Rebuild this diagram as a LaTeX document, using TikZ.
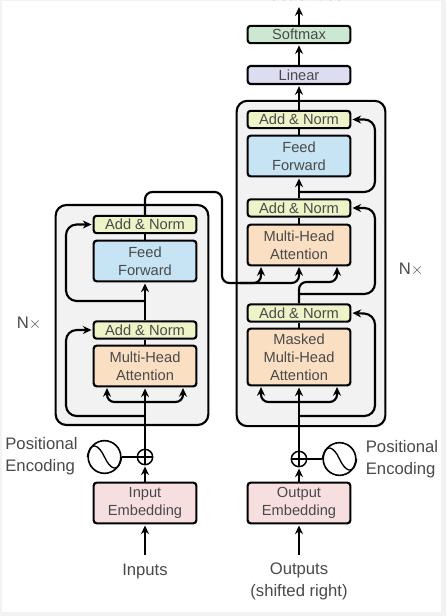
\documentclass[tikz,border=0pt]{standalone}
\usepackage{fontspec}
\setmainfont{Liberation Sans}
\usetikzlibrary{arrows.meta}
\definecolor{inkText}{HTML}{4A4A4A}
\definecolor{stackFill}{HTML}{F2F2F2}
\definecolor{normFill}{HTML}{EFF3C8}
\definecolor{feedFill}{HTML}{C6E4F3}
\definecolor{attnFill}{HTML}{FADFC2}
\definecolor{embedFill}{HTML}{F7DFE0}
\definecolor{linearFill}{HTML}{DCDDF0}
\definecolor{softFill}{HTML}{CDE8D2}

\begin{document}
\begin{tikzpicture}[
  x=0.75pt,y=-0.75pt,
  block/.style={draw=black,line width=1.6pt,rounded corners=2.2pt,minimum width=77pt,inner sep=0pt,
    align=center,text=inkText,font=\fontsize{11}{13.6}\selectfont},
  normbox/.style={block,fill=normFill,minimum height=13pt},
  feedbox/.style={block,fill=feedFill,minimum height=30.5pt},
  attnbox/.style={block,fill=attnFill,minimum height=30.5pt},
  maskbox/.style={block,fill=attnFill,minimum height=42.5pt},
  embedbox/.style={block,fill=embedFill,minimum height=30.5pt},
  stackbox/.style={draw=black,fill=stackFill,line width=1.6pt,rounded corners=8pt,inner sep=0pt},
  caption/.style={text=inkText,font=\fontsize{12.5}{16.5}\selectfont,align=center,inner sep=0pt},
  flow/.style={line width=1.6pt,-{Stealth[length=6.5pt,width=6pt]},shorten >=0.8pt},
  wire/.style={line width=1.6pt},
  turning/.style={rounded corners=5.5pt},
  oplus/.style={circle,draw=black,line width=1.1pt,minimum size=11.5pt,inner sep=0pt},
  wave/.style={circle,draw=black,line width=1.2pt,minimum size=24.5pt,inner sep=0pt}
]
  \useasboundingbox (0,0) rectangle (446,616);
  \fill[stackFill] (0,0) rectangle (446,616);
  \fill[white] (2,1) rectangle (441,612);

  % stacks
  \node[stackbox,minimum width=114.5pt,minimum height=165pt] (encStack) at (132,315) {};
  \node[stackbox,minimum width=111.5pt,minimum height=244pt] (decStack) at (311,263.5) {};

  % encoder
  \node[embedbox] (encEmbed) at (145,503) {Input\\Embedding};
  \node[attnbox] (encAttn) at (145,366) {Multi-Head\\Attention};
  \node[normbox] (encNormA) at (145,330) {Add \& Norm};
  \node[feedbox] (encFeed) at (145,261) {Feed\\Forward};
  \node[normbox] (encNormB) at (145,224.5) {Add \& Norm};

  % decoder
  \node[embedbox] (decEmbed) at (299,503) {Output\\Embedding};
  \node[maskbox] (decMasked) at (299,357) {Masked\\Multi-Head\\Attention};
  \node[normbox] (decNormA) at (299,313) {Add \& Norm};
  \node[attnbox] (decAttn) at (299,245) {Multi-Head\\Attention};
  \node[normbox] (decNormB) at (299,208) {Add \& Norm};
  \node[feedbox] (decFeed) at (299,156) {Feed\\Forward};
  \node[normbox] (decNormC) at (299,119.5) {Add \& Norm};
  \node[block,fill=linearFill,minimum height=13.5pt] (linear) at (299,75) {Linear};
  \node[block,fill=softFill,minimum height=13pt] (softmax) at (299,34.5) {Softmax};

  % captions
  \node[caption,anchor=base] (outProb) at (298,1) {Probabilities};
  \node[caption] (inputs) at (145,571) {Inputs};
  \node[caption] (outputs) at (299,581) {Outputs\\(shifted right)};
  \node[caption,align=left] (encPos) at (41.5,456) {Positional\\Encoding};
  \node[caption,align=left] (decPos) at (402,459) {Positional\\Encoding};
  \node[caption] (encN) at (29,323) {N$\times$};
  \node[caption] (decN) at (411,269) {N$\times$};

  % positional encoding
  \node[oplus] (encAdd) at (145,457) {};
  \node[oplus] (decAdd) at (299,459) {};
  \node[wave] (encSine) at (104.5,457) {};
  \node[wave] (decSine) at (339.5,459) {};
  \foreach \n in {encSine,decSine}
    \draw[line width=1pt] (\n.west) .. controls +(2pt,13pt) and +(-4pt,9pt) .. (\n.center)
      .. controls +(4pt,-9pt) and +(-2pt,-13pt) .. (\n.east);
  \foreach \n in {encAdd,decAdd} {
    \draw[line width=1pt] (\n.north) -- (\n.south);
    \draw[line width=1pt] (\n.west) -- (\n.east);
  }
  \draw[wire] (encSine) -- (encAdd);
  \draw[wire] (decSine) -- (decAdd);

  % coordinates for the branches
  \coordinate (inStart) at (145,555);
  \coordinate (outStart) at (299,555);
  \coordinate (topEnd) at (299,6);
  \coordinate (encFork) at (145,402);
  \coordinate (encSkipA) at (145,416);
  \coordinate (encSkipB) at (145,301);
  \coordinate (encKey) at (107,387);
  \coordinate (encVal) at (183,387);
  \coordinate (crossR) at (222,192);
  \coordinate (crossB) at (222,283);
  \coordinate (crossA) at (240,283);
  \coordinate (decKey) at (261,266);
  \coordinate (decVal) at (299,266);
  \coordinate (decQuery) at (337,266);
  \coordinate (decFork) at (299,402);
  \coordinate (decSkipA) at (299,416);
  \coordinate (decSkipB) at (299,294);
  \coordinate (decSkipC) at (299,192);
  \coordinate (maskKey) at (261,386);
  \coordinate (maskQuery) at (337,386);
  \coordinate (turnA) at (66,330);
  \coordinate (turnB) at (66,224.5);
  \coordinate (turnC) at (375,314);
  \coordinate (turnD) at (375,208);
  \coordinate (turnE) at (375,119.5);
  \coordinate (bendQ) at (299,282);

  % vertical arrows
  \draw[flow] (inStart) -- (encEmbed);
  \draw[flow] (outStart) -- (decEmbed);
  \draw[flow] (encEmbed) -- (encAdd);
  \draw[flow] (decEmbed) -- (decAdd);
  \draw[flow] (encAdd) -- (encAttn);
  \draw[flow] (decAdd) -- (decMasked);
  \draw[wire] (encAttn) -- (encNormA);
  \draw[flow] (encNormA) -- (encFeed);
  \draw[wire] (encFeed) -- (encNormB);
  \draw[wire] (decMasked) -- (decNormA);
  \draw[wire] (decAttn) -- (decNormB);
  \draw[flow] (decNormB) -- (decFeed);
  \draw[wire] (decFeed) -- (decNormC);
  \draw[flow] (decNormC) -- (linear);
  \draw[flow] (linear) -- (softmax);
  \draw[flow] (softmax) -- (topEnd);

  % attention inputs
  \draw[flow,turning] (encFork) -| (encKey);
  \draw[flow,turning] (encFork) -| (encVal);
  \draw[flow,turning] (decFork) -| (maskKey);
  \draw[flow,turning] (decFork) -| (maskQuery);

  % residuals
  \draw[flow,rounded corners=8pt] (encSkipA) -| (turnA) -- (encNormA.west);
  \draw[flow,rounded corners=8pt] (encSkipB) -| (turnB) -- (encNormB.west);
  \draw[flow,rounded corners=8pt] (decSkipA) -| (turnC) -- (decNormA.east);
  \draw[flow,rounded corners=8pt] (decSkipB) -| (turnD) -- (decNormB.east);
  \draw[flow,rounded corners=8pt] (decSkipC) -| (turnE) -- (decNormC.east);

  % encoder to decoder
  \draw[flow,turning] (encNormB.north) |- (crossR) -- (crossB) -| (decVal);
  \draw[flow,turning] (crossA) -| (decKey);
  \draw[flow,turning] (decNormA.north) -- (bendQ) -| (decQuery);
\end{tikzpicture}
\end{document}
